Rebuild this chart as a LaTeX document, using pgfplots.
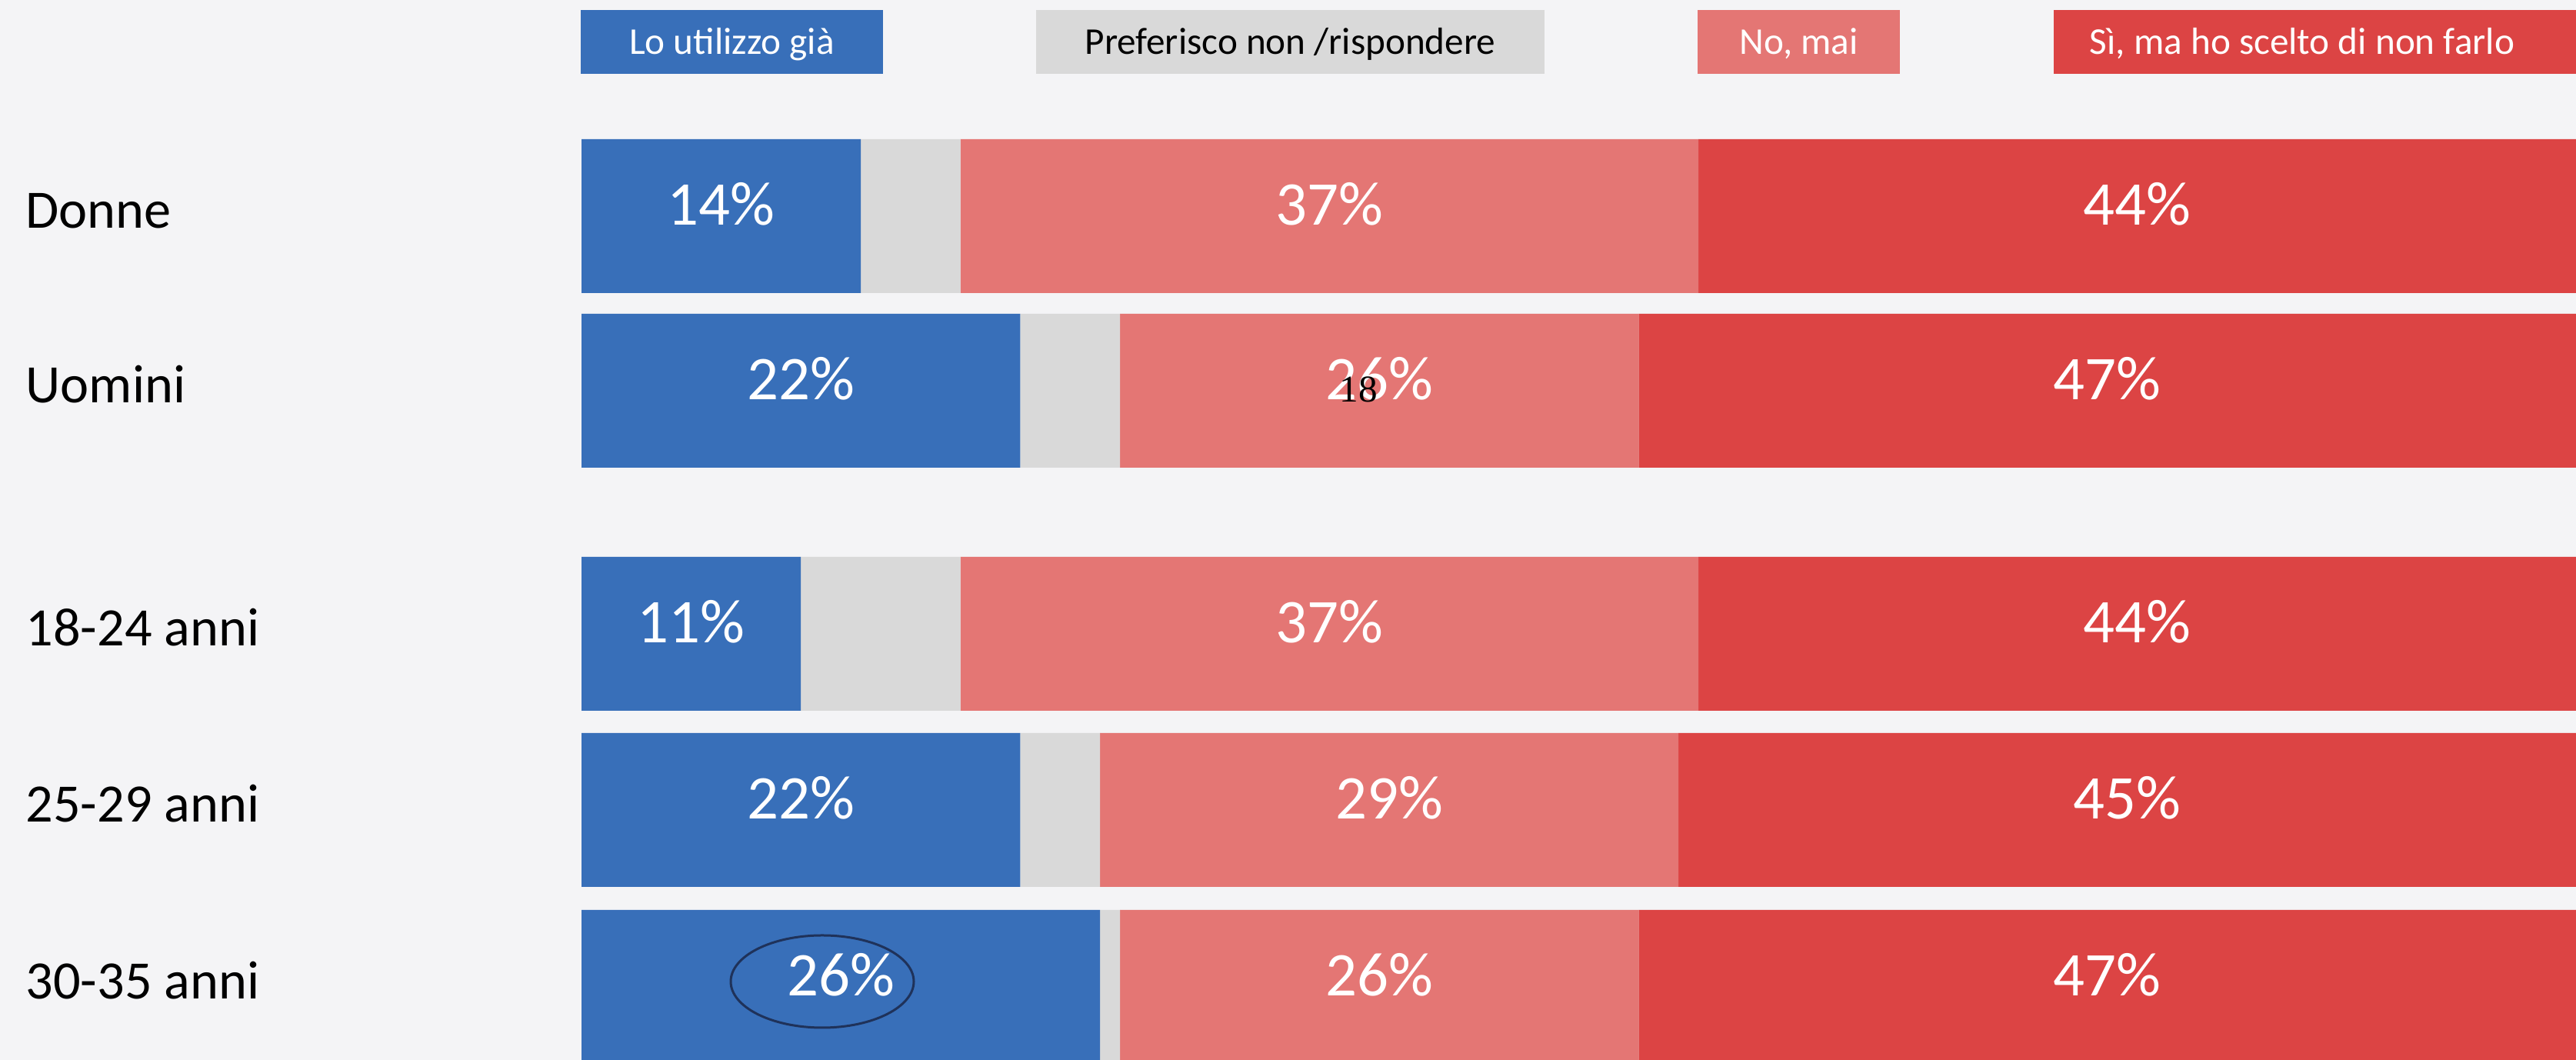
\documentclass[border=0pt]{standalone}
\usepackage{fontspec}
\setmainfont{Carlito}
\newfontfamily\serifnum{Liberation Serif}
\usepackage{pgfplots}
\usepackage{pgfplotstable}
\pgfplotsset{compat=1.18}
\definecolor{bgcol}{RGB}{244,244,246}
\definecolor{cblue}{RGB}{56,111,185}
\definecolor{cgray}{RGB}{217,217,217}
\definecolor{cpink}{RGB}{228,118,116}
\definecolor{cred}{RGB}{220,68,68}
\definecolor{navy}{RGB}{31,50,90}

% one row per bar; pos = bar centre (1 unit = 0.01 cm from the bottom)
\pgfplotstableread{
pos  lo pref no si
1097 14 5 37 44
870  22 5 26 47
554  11 8 37 44
325  22 4 29 45
95   26 1 26 47
}\datatable

\pgfplotsset{
  pctlabel/.style={
    point meta=explicit,
    nodes near coords={\pgfmathprintnumber[fixed,precision=0,assume math mode=true]{\pgfplotspointmeta}\%},
    every node near coord/.append style={anchor=base,
      text=white, font=\fontsize{23}{23}\selectfont, yshift=-0.115cm},
  },
}

\begin{document}
\begin{tikzpicture}
\fill[bgcol] (0,0) rectangle (33.49,13.78);
\begin{axis}[
  at={(0,0)}, anchor=south west, scale only axis,
  width=33.49cm, height=13.78cm,
  xmin=-29.155, xmax=100, ymin=0, ymax=1378,
  xbar stacked, bar width=2cm,
  axis line style={draw=none}, major tick length=0pt,
  xtick=\empty,
  ytick={1097,870,554,325,95},
  yticklabels={Donne,Uomini,18-24 anni,25-29 anni,30-35 anni},
  yticklabel style={anchor=base west, inner sep=0pt, xshift=0.33cm,
    yshift=-0.16cm, font=\fontsize{20}{24}\selectfont},
]
\addplot[fill=cblue, draw=none, pctlabel] table[x=lo, y=pos, meta=lo] {\datatable};
\addplot[fill=cgray, draw=none] table[x=pref, y=pos] {\datatable};
\addplot[fill=cpink, draw=none, pctlabel] table[x=no, y=pos, meta=no] {\datatable};
\addplot[fill=cred, draw=none, pctlabel] table[x=si, y=pos, meta=si] {\datatable};
\end{axis}

% legend boxes across the top
\fill[cblue] (7.55,12.82) rectangle (11.48,13.65);
\fill[cgray] (13.47,12.82) rectangle (20.08,13.65);
\fill[cpink] (22.07,12.82) rectangle (24.70,13.65);
\fill[cred] (26.70,12.82) rectangle (33.49,13.65);
\begin{scope}[every node/.style={anchor=base, font=\fontsize{14}{14}\selectfont}]
\node[text=white] at (9.515,13.07) {Lo utilizzo già};
\node[text=black] at (16.775,13.07) {Preferisco non /rispondere};
\node[text=white] at (23.385,13.07) {No, mai};
\node[text=white] at (29.93,13.07) {Sì, ma ho scelto di non farlo};
\end{scope}

% annotations left on the slide
\draw[navy, line width=0.03cm] (10.69,1.02) ellipse [x radius=1.19cm, y radius=0.6cm];
\node[anchor=base, font=\serifnum\fontsize{14}{14}\selectfont] at (17.66,8.553) {18};

\pgfresetboundingbox
\useasboundingbox (0,0) rectangle (33.49,13.78);
\end{tikzpicture}
\end{document}
